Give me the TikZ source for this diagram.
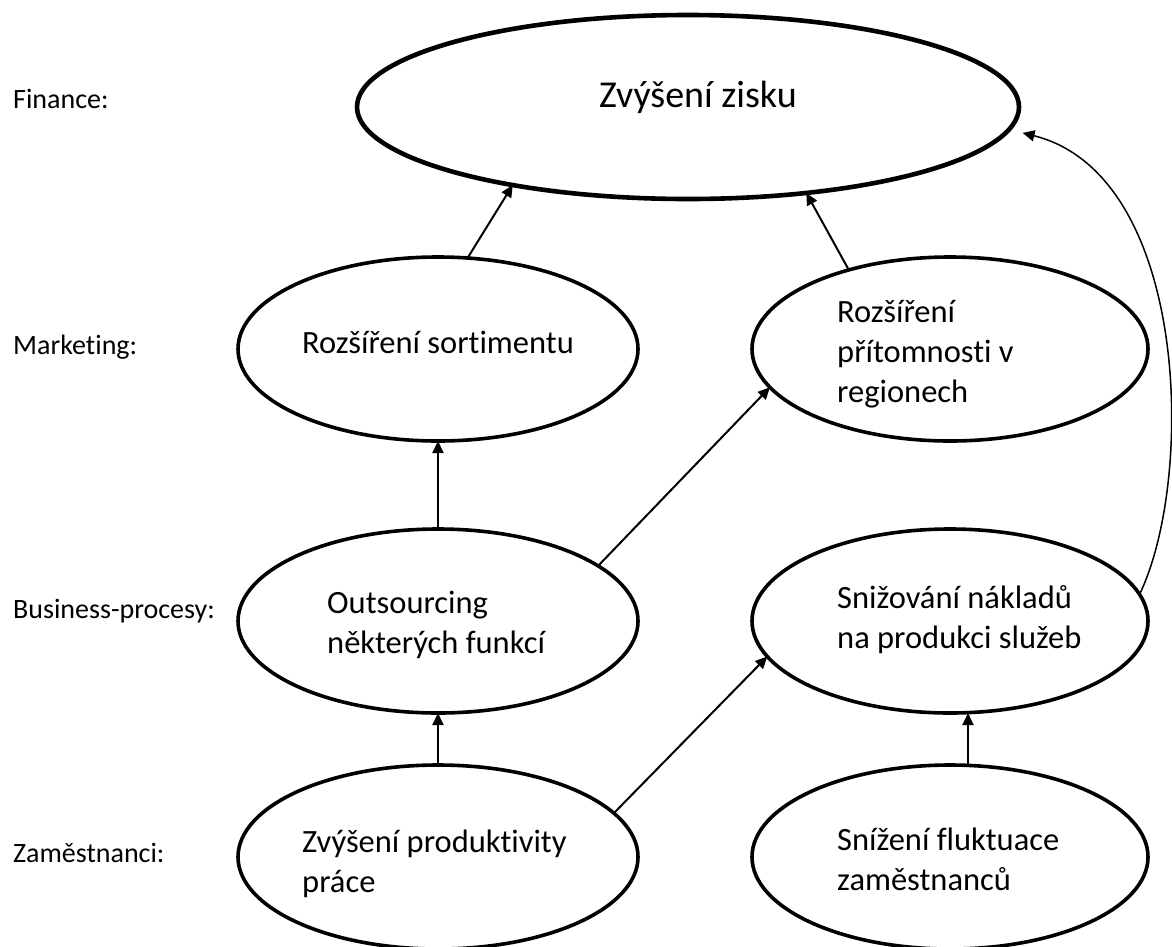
\documentclass[tikz,border=0pt]{standalone}
\usepackage{fontspec}
\setmainfont{Carlito}[RawFeature=-liga]
\usetikzlibrary{shapes.geometric,arrows.meta}
\begin{document}
\begin{tikzpicture}[x=1pt,y=-1pt,
  oval/.style={draw, ellipse, line width=3.6pt, inner sep=0pt, outer sep=0pt, minimum height=184pt},
  body/.style={anchor=base west, inner sep=0pt, align=left, font=\fontsize{32.5}{40}\selectfont},
  lvl/.style={anchor=base west, inner sep=0pt, font=\fontsize{28}{34}\selectfont},
  link/.style={line width=2pt, -{Triangle[length=12pt,width=11pt]}},
  curvelink/.style={line width=1.5pt, -{Triangle[length=12pt,width=11pt]}},
]
\useasboundingbox (0,0) rectangle (1172,946);

% level labels on the left
\node[lvl] (lfin) at (13,108) {Finance:};
\node[lvl] (lmar) at (13,354) {Marketing:};
\node[lvl] (lbus) at (13,618) {Business-procesy:};
\node[lvl] (lzam) at (13,862) {Zaměstnanci:};

% goal ellipses
\node[oval, line width=4.6pt, minimum width=662pt] (top) at (688,107) {};
\node[oval, minimum width=400pt] (sort) at (438,349) {};
\node[oval, minimum width=396pt] (reg)  at (950,349) {};
\node[oval, minimum width=400pt] (out)  at (438,621) {};
\node[oval, minimum width=396pt] (cost) at (950,621) {};
\node[oval, minimum width=400pt] (prod) at (438,857) {};
\node[oval, minimum width=396pt] (fluk) at (950,857) {};

% texts inside the ellipses (anchored at the baseline of the last line)
\node[anchor=base west, inner sep=0pt, font=\fontsize{38}{44}\selectfont] (ttop) at (599,107) {Zvýšení zisku};
\node[body] (tsort) at (302,353) {Rozšíření sortimentu};
\node[body] (treg)  at (837,402) {Rozšíření\\přítomnosti v\\regionech};
\node[body] (tout)  at (327,653) {Outsourcing\\některých funkcí};
\node[body] (tcost) at (837,648) {Snižování nákladů\\na produkci služeb};
\node[body] (tprod) at (302,892) {Zvýšení produktivity\\práce};
\node[body] (tfluk) at (837,890) {Snížení fluktuace\\zaměstnanců};

% cause-effect links
\draw[link] (sort.72) -- (top.204);
\draw[link] (reg.142.6) -- (top.324.4);
\draw[link] (out.north) -- (sort.south);
\draw[link] (out.19.7) -- (reg.192.7);
\draw[link] (prod.north) -- (out.south);
\draw[link] (prod.14.3) -- (cost.191.9);
\draw[link] ([xshift=18pt]fluk.north) -- ([xshift=18pt]cost.south);
\draw[curvelink, shorten >=14pt] (cost.8.8) .. controls (1195,480) and (1190,175) .. (top.-4.3);
\end{tikzpicture}
\end{document}
